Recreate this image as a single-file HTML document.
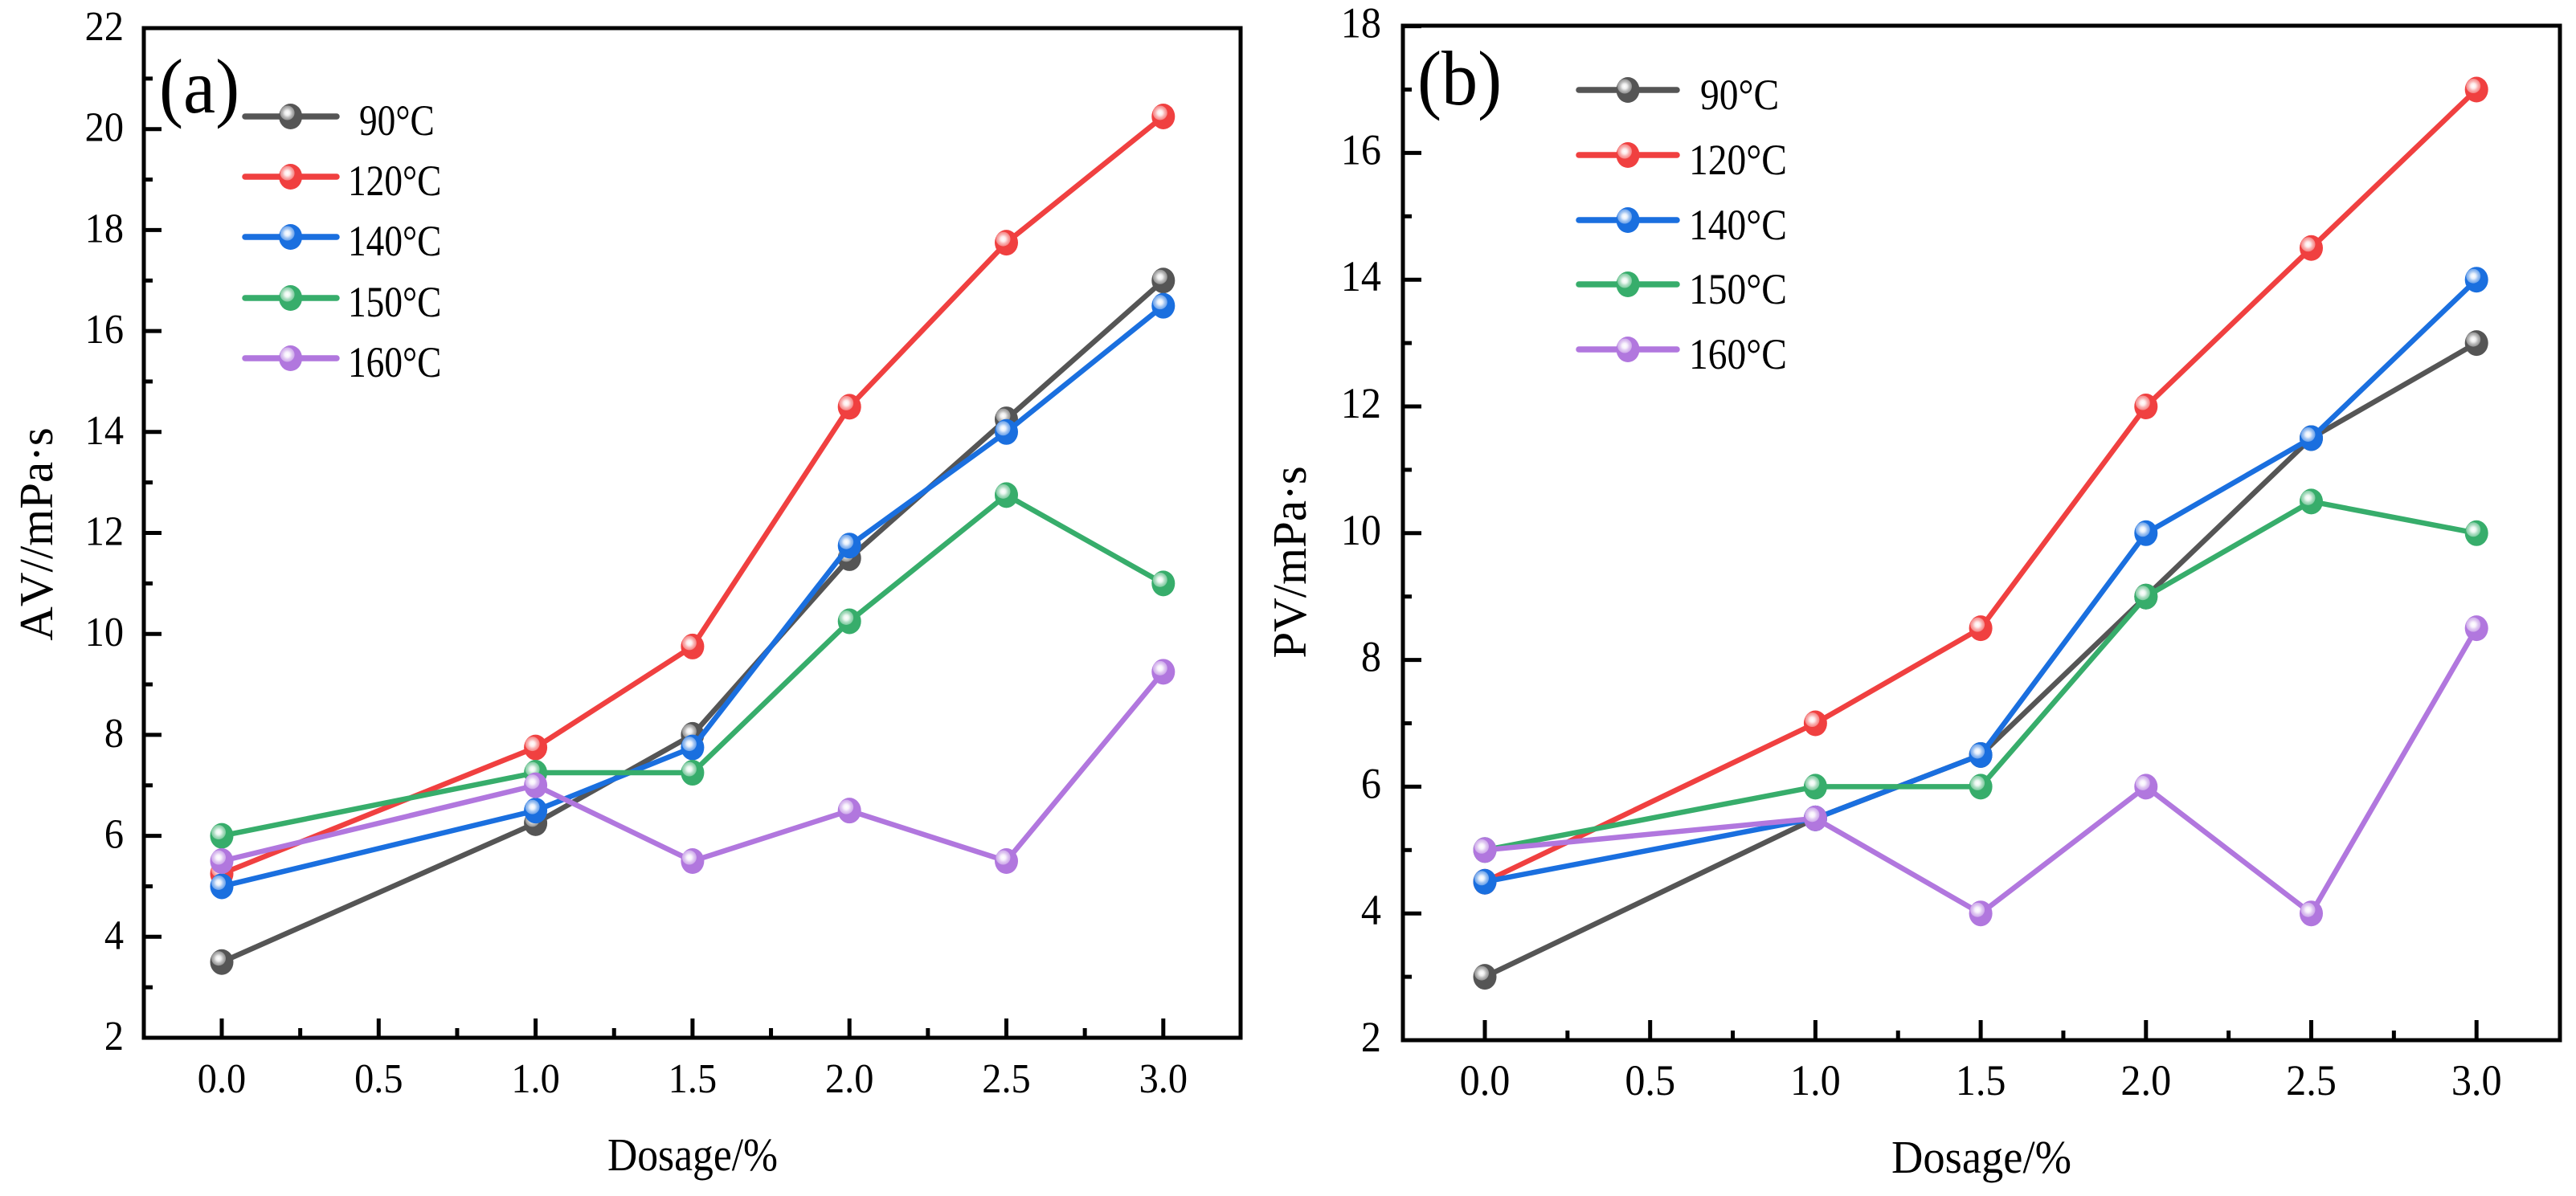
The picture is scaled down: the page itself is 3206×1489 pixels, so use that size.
<!DOCTYPE html>
<html lang="en">
<head>
<meta charset="utf-8">
<title>AV and PV versus dosage</title>
<style>
html,body{margin:0;padding:0;background:#fff;width:3206px;height:1489px;overflow:hidden}
svg{display:block}
text{font-family:"Liberation Serif",serif;fill:#000;font-kerning:none}
</style>
</head>
<body>
<svg id="chart" xmlns="http://www.w3.org/2000/svg" width="3206" height="1489" viewBox="0 0 3206 1489">
<defs>
<radialGradient id="shine">
<stop offset="0" stop-color="#fff" stop-opacity="1"/>
<stop offset="0.35" stop-color="#fff" stop-opacity="0.9"/>
<stop offset="0.65" stop-color="#fff" stop-opacity="0.6"/>
<stop offset="1" stop-color="#fff" stop-opacity="0.35"/>
</radialGradient>
</defs>
</svg>
<script>
// Shared categories and labels
const dosage = [0, 1, 1.5, 2, 2.5, 3];
const xTickLabels = ['0.0', '0.5', '1.0', '1.5', '2.0', '2.5', '3.0'];
const seriesNames = ['90°C', '120°C', '140°C', '150°C', '160°C'];
const seriesColors = ['#555555', '#F04040', '#1A6FDF', '#37AD6B', '#B177DE'];

// Panel (a): apparent viscosity
const av90 = [3.5, 6.25, 8, 11.5, 14.25, 17];
const av120 = [5.25, 7.75, 9.75, 14.5, 17.75, 20.25];
const av140 = [5, 6.5, 7.75, 11.75, 14, 16.5];
const av150 = [6, 7.25, 7.25, 10.25, 12.75, 11];
const av160 = [5.5, 7, 5.5, 6.5, 5.5, 9.25];
const avTickLabels = ['2', '4', '6', '8', '10', '12', '14', '16', '18', '20', '22'];

// Panel (b): plastic viscosity
const pv90 = [3, 5.5, 6.5, 9, 11.5, 13];
const pv120 = [4.5, 7, 8.5, 12, 14.5, 17];
const pv140 = [4.5, 5.5, 6.5, 10, 11.5, 14];
const pv150 = [5, 6, 6, 9, 10.5, 10];
const pv160 = [5, 5.5, 4, 6, 4, 8.5];
const pvTickLabels = ['2', '4', '6', '8', '10', '12', '14', '16', '18'];

const NS = 'http://www.w3.org/2000/svg';
const root = document.getElementById('chart');

function shape(parent, tag, attrs, name) {
  const el = document.createElementNS(NS, tag);
  for (const k in attrs) el.setAttribute(k, attrs[k]);
  
  
  parent.appendChild(el);
  return el;
}

function label(parent, str, x, y, size, sx, anchor, name, rotate) {
  const el = document.createElementNS(NS, 'text');
  el.textContent = str;
  el.setAttribute('font-size', size);
  el.setAttribute('text-anchor', anchor);
  el.setAttribute('transform', 'translate(' + x + ' ' + y + ')' + (rotate ? ' rotate(-90)' : '') + ' scale(' + sx + ' 1)');
  
  
  parent.appendChild(el);
  return el;
}

function marker(parent, cx, cy, color, name) {
  shape(parent, 'ellipse', {cx: cx, cy: cy, rx: 14.5, ry: 16, fill: color}, name);
  shape(parent, 'circle', {cx: cx - 4, cy: cy - 4.5, r: 9, fill: 'url(#shine)'}, name + '-highlight');
}

function drawPanel(p) {
  const g = shape(root, 'g', {}, 'panel-' + p.id);
  const xScale = v => p.x0 + v * p.xUnit;
  const yScale = v => p.yBottom - (v - 2) * p.yUnit;

  // Y axis ticks, major every 2, minor at odd values
  p.yLabels.forEach((t, i) => {
    const v = Number(t);
    shape(g, 'line', {x1: p.left, x2: p.left + p.majorY, y1: yScale(v), y2: yScale(v), stroke: '#000', 'stroke-width': 5}, 'y-tick-' + t);
    label(g, t, p.yLabelX, yScale(v) + p.yLabelDy, p.tickFont, p.tickSx, 'end', 'y-tick-label-' + t);
    if (i < p.yLabels.length - 1) {
      shape(g, 'line', {x1: p.left, x2: p.left + p.minorY, y1: yScale(v + 1), y2: yScale(v + 1), stroke: '#000', 'stroke-width': 5}, 'y-minor-tick-' + (v + 1));
    }
  });

  // X axis ticks, major every 0.5, minor halfway
  xTickLabels.forEach((t, i) => {
    const v = Number(t);
    shape(g, 'line', {x1: xScale(v), x2: xScale(v), y1: p.yBottom, y2: p.yBottom - p.majorX, stroke: '#000', 'stroke-width': 5}, 'x-tick-' + t);
    label(g, t, xScale(v), p.xLabelY, p.tickFont, p.tickSx, 'middle', 'x-tick-label-' + t);
    if (i < xTickLabels.length - 1) {
      shape(g, 'line', {x1: xScale(v + 0.25), x2: xScale(v + 0.25), y1: p.yBottom, y2: p.yBottom - p.minorX, stroke: '#000', 'stroke-width': 5}, 'x-minor-tick-' + i);
    }
  });

  shape(g, 'rect', {x: p.left, y: p.top, width: p.right - p.left, height: p.yBottom - p.top, fill: 'none', stroke: '#000', 'stroke-width': 5}, 'plot-frame');

  // Series
  p.series.forEach((vals, s) => {
    const pts = vals.map((v, i) => xScale(dosage[i]) + ',' + yScale(v)).join(' ');
    shape(g, 'polyline', {points: pts, fill: 'none', stroke: seriesColors[s], 'stroke-width': 6.5, 'stroke-linejoin': 'round'}, 'series-line-' + seriesNames[s]);
    vals.forEach((v, i) => marker(g, xScale(dosage[i]), yScale(v), seriesColors[s], 'point-' + seriesNames[s] + '-' + dosage[i]));
  });

  // Legend
  seriesNames.forEach((n, s) => {
    const y = p.legendY[s];
    shape(g, 'line', {x1: p.legendX1, x2: p.legendX2, y1: y, y2: y, stroke: seriesColors[s], 'stroke-width': 7.5, 'stroke-linecap': 'round'}, 'legend-line-' + n);
    marker(g, p.legendMx, y, seriesColors[s], 'legend-marker-' + n);
    label(g, n, s === 0 ? p.legendText0 : p.legendText, y + p.legendDy, 54, p.legendSx, 'start', 'legend-label-' + n);
  });

  label(g, p.letter, p.letterX, p.letterY, 96, 0.94, 'start', 'panel-letter');
  label(g, 'Dosage/%', p.xTitleX, p.xTitleY, 58, p.xTitleSx, 'middle', 'x-axis-title');
  label(g, p.yTitle, p.yTitleX, p.yTitleY, 59, 1, 'middle', 'y-axis-title', true);
}

drawPanel({
  id: 'a', letter: '(a)', yTitle: 'AV//mPa·s', yLabels: avTickLabels,
  series: [av90, av120, av140, av150, av160],
  left: 179, right: 1544, top: 35, yBottom: 1292, x0: 276, xUnit: 390.6, yUnit: 62.85,
  majorY: 22, minorY: 11, majorX: 24, minorX: 12,
  tickFont: 52, tickSx: 0.93, yLabelX: 154, yLabelDy: 15, xLabelY: 1360,
  legendY: [145, 220, 295, 371, 446], legendX1: 305, legendX2: 419, legendMx: 361.6,
  legendText: 433, legendText0: 447, legendDy: 23, legendSx: 0.84,
  letterX: 198, letterY: 140, xTitleX: 862, xTitleY: 1457, xTitleSx: 0.89, yTitleX: 65, yTitleY: 665
});

drawPanel({
  id: 'b', letter: '(b)', yTitle: 'PV/mPa·s', yLabels: pvTickLabels,
  series: [pv90, pv120, pv140, pv150, pv160],
  left: 1746, right: 3186, top: 32, yBottom: 1295, x0: 1848, xUnit: 411.4, yUnit: 78.9,
  majorY: 23, minorY: 11, majorX: 25, minorX: 12,
  tickFont: 54, tickSx: 0.93, yLabelX: 1719, yLabelDy: 14, xLabelY: 1363,
  legendY: [112, 193, 274, 354, 435], legendX1: 1965, legendX2: 2087, legendMx: 2026,
  legendText: 2102, legendText0: 2116, legendDy: 24, legendSx: 0.88,
  letterX: 1764, letterY: 130, xTitleX: 2466, xTitleY: 1460, xTitleSx: 0.94, yTitleX: 1625, yTitleY: 700
});
</script>
</body>
</html>
